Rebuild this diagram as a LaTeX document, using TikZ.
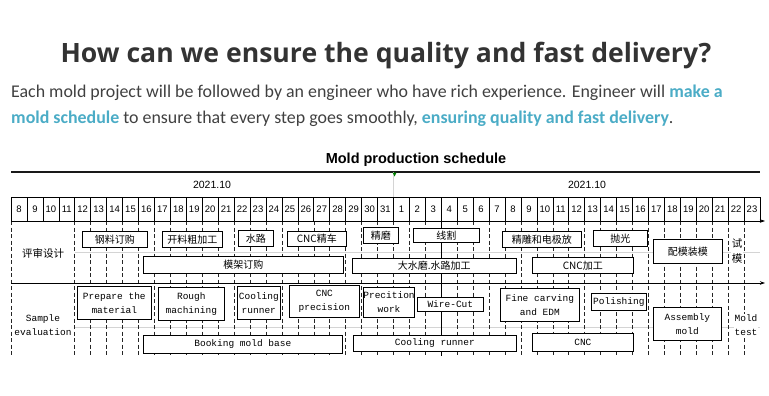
\documentclass[tikz,border=0pt]{standalone}
\usepackage{fontspec}
\setmainfont{Liberation Sans}
\newfontfamily\cjk{Noto Sans CJK SC}
\newfontfamily\bodyf{Carlito}
\newfontfamily\ttlf{Open Sans}
\newfontfamily\monof{Liberation Mono}
\usetikzlibrary{arrows.meta}
\definecolor{ttlc}{HTML}{333333}
\definecolor{txtc}{HTML}{404040}
\definecolor{blu}{HTML}{4BACC6}
\definecolor{faint}{HTML}{D4D4D4}
\newcommand\bx[6]{%
  \pgfmathsetmacro\bw{#4-#2}\pgfmathsetmacro\bh{#5-#3}%
  \node[box,minimum width=\bw pt,minimum height=\bh pt] (#1) at (#2,#3) {#6};}
\begin{document}
\begin{tikzpicture}[x=1pt,y=-1pt,
  box/.style={draw=black,line width=0.7pt,fill=white,inner sep=0pt,anchor=north west,align=center},
  cn/.style={font=\cjk\fontsize{10.5}{15}\selectfont},
  en/.style={font=\monof\fontsize{9.5}{14}\selectfont},
  datef/.style={font=\fontsize{9.5}{10}\selectfont,inner sep=0pt},
  grid/.style={line width=0.6pt,black},
  dsh/.style={line width=0.55pt,black!85,dash pattern=on 4pt off 2.5pt},
  arr/.style={line width=0.8pt,-{Stealth[length=5pt,width=3.5pt]}}]
\useasboundingbox (0,0) rectangle (769,396);
% header texts
\node[anchor=base,inner sep=0pt,text=ttlc,font=\ttlf\bfseries\fontsize{26.6}{30}\selectfont] (title) at (386,63) {How can we ensure the quality and fast delivery?};
\node[anchor=base west,inner sep=0pt,text=txtc,font=\bodyf\fontsize{17.9}{20}\selectfont] (l1) at (11,98) {Each mold project will be followed by an engineer who have rich experience. Engineer will \textcolor{blu}{\bfseries make a}};
\node[anchor=base west,inner sep=0pt,text=txtc,font=\bodyf\fontsize{17.9}{20}\selectfont] (l2) at (11,124) {\textcolor{blu}{\bfseries mold schedule} to ensure that every step goes smoothly, \textcolor{blu}{\bfseries ensuring quality and fast delivery}.};
% chart header
\node[font=\bfseries\fontsize{14.5}{16}\selectfont,inner sep=0pt] (ct) at (416,160) {Mold production schedule};
\draw[line width=1.6pt,black!90] (11,172) -- (760,172);
\draw[faint,line width=0.6pt] (393.6,172) -- (393.6,197);
\fill[green!50!black] (392.5,172.5) -- (396.5,172.5) -- (394.5,176.5) -- cycle;
\node[font=\fontsize{10.5}{12}\selectfont,inner sep=0pt] (m1) at (212,185) {2021.10};
\node[font=\fontsize{10.5}{12}\selectfont,inner sep=0pt] (m2) at (587,185) {2021.10};
% date row
\draw[grid] (11,197) -- (760,197);
\foreach \k in {0,...,47} \draw[grid] ({11+\k*15.936},197) -- ({11+\k*15.936},221);
\foreach \d in {8,...,31} \node[datef] (da\d) at ({11+(\d-8+0.5)*15.936},209.5) {\d};
\foreach \d in {1,...,23} \node[datef] (db\d) at ({11+(\d+23.5)*15.936},209.5) {\d};
% faint midlines
\draw[faint,line width=0.6pt] (75,252) -- (760,252);
\draw[faint,line width=0.6pt] (75,327) -- (760,327);
% dashed verticals
\draw[dsh] (11,221) -- (11,356);
\foreach \k in {4,...,46} \draw[dsh] ({11+\k*15.936},221) -- ({11+\k*15.936},356);
\draw[line width=0.6pt] (441.3,221) -- (441.3,356);
% arrows
\draw[arr] (11,221) -- (765,221);
\draw[arr] (11,283) -- (765,283);
% labels
\node[cn,inner sep=0pt] (lab1) at (43,253) {评审设计};
\node[en,inner sep=0pt,align=center] (lab2) at (43,325) {Sample\\evaluation};
\node[cn,inner sep=0.5pt,align=center,fill=white] (lab3) at (737,251) {试\\模};
\node[en,inner sep=0.5pt,align=center,fill=white] (lab4) at (746,325) {Mold\\test};
% chinese boxes
\bx{c1}{82}{231}{147}{247}{\cjk 钢料订购}
\bx{c2}{162}{231}{222}{247}{\cjk 开料粗加工}
\bx{c3}{238}{230}{273}{246}{\cjk 水路}
\bx{c4}{287}{231}{346}{246}{\cjk CNC精车}
\bx{c5}{363}{227}{398}{243}{\cjk 精磨}
\bx{c6}{413}{228}{479}{242}{\cjk 线割}
\bx{c7}{502}{231}{581}{247}{\cjk 精雕和电极放}
\bx{c8}{593}{230}{647}{246}{\cjk 抛光}
\bx{c9}{653}{239}{722}{263}{\cjk 配模装模}
\bx{c10}{143}{256}{343}{273}{\cjk 模架订购}
\bx{c11}{352}{258}{516}{273}{\cjk 大水磨.水路加工}
\bx{c12}{532}{257}{633}{273}{\cjk CNC加工}
% english boxes
\tikzset{box/.append style={font=\monof\fontsize{9.5}{14}\selectfont}}
\bx{e1}{77}{286}{151}{319}{Prepare the\\material}
\bx{e2}{158}{287}{224}{320}{Rough\\machining}
\bx{e3}{237}{286}{280}{319}{Cooling\\runner}
\bx{e4}{289}{285}{359}{317}{CNC\\precision}
\bx{e5}{363}{287}{412}{317}{Precition\\work}
\bx{e6}{417}{297}{483}{311}{Wire-Cut}
\bx{e7}{500}{288}{579}{321}{Fine carving\\and EDM}
\bx{e8}{591}{293}{646}{310}{Polishing}
\bx{e9}{653}{307}{721}{340}{Assembly\\mold}
\bx{e10}{143}{335}{342}{353}{Booking mold base}
\bx{e11}{353}{335}{516}{351}{Cooling runner}
\bx{e12}{532}{333}{633}{351}{CNC}
\end{tikzpicture}
\end{document}
